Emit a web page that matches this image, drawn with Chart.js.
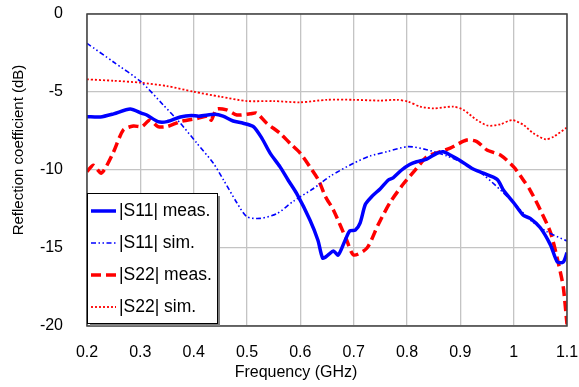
<!DOCTYPE html>
<html>
<head>
<meta charset="utf-8">
<script src="https://cdn.jsdelivr.net/npm/chart.js@4.4.1/dist/chart.umd.min.js"></script>
<style>
  html, body { margin: 0; padding: 0; background: #fff; }
  canvas { display: block; }
</style>
</head>
<body>
<canvas id="refl-chart" width="579" height="387"></canvas>
<script>
// Valores (frequência em GHz, coeficiente em dB)
var s11MeasFreq = [0.2, 0.225, 0.25, 0.281, 0.303, 0.312, 0.333, 0.35, 0.375, 0.396, 0.41, 0.44, 0.455, 0.474, 0.493, 0.512, 0.528, 0.543, 0.562, 0.577, 0.593, 0.618, 0.633, 0.642, 0.652, 0.662, 0.671, 0.684, 0.693, 0.703, 0.712, 0.722, 0.734, 0.75, 0.765, 0.774, 0.79, 0.805, 0.818, 0.837, 0.856, 0.868, 0.881, 0.9, 0.922, 0.943, 0.969, 0.981, 1.0, 1.018, 1.031, 1.05, 1.069, 1.082, 1.093, 1.1];
var s11MeasDb = [-6.58, -6.6, -6.4, -6.09, -6.37, -6.47, -6.9, -6.9, -6.6, -6.5, -6.55, -6.43, -6.55, -6.86, -7.0, -7.22, -7.97, -8.9, -9.8, -10.64, -11.5, -13.2, -14.5, -15.65, -15.45, -15.2, -15.45, -14.5, -13.9, -13.85, -13.4, -12.2, -11.7, -11.2, -10.64, -10.5, -10.0, -9.65, -9.47, -9.3, -8.93, -8.83, -9.04, -9.4, -9.9, -10.2, -10.6, -11.3, -12.1, -12.9, -13.1, -13.7, -14.8, -15.9, -15.9, -15.3];

var s11SimFreq = [0.2, 0.249, 0.301, 0.343, 0.375, 0.406, 0.437, 0.456, 0.481, 0.5, 0.525, 0.556, 0.587, 0.624, 0.656, 0.7, 0.731, 0.762, 0.802, 0.837, 0.875, 0.906, 0.943, 0.994, 1.031, 1.062, 1.1];
var s11SimDb = [-1.88, -3.06, -4.34, -5.83, -7.0, -8.28, -9.57, -10.64, -12.1, -13.0, -13.1, -12.8, -12.0, -11.2, -10.4, -9.56, -9.1, -8.83, -8.5, -8.7, -9.1, -9.56, -10.3, -11.9, -13.2, -13.95, -14.55];

var s22MeasFreq = [0.2, 0.212, 0.227, 0.249, 0.268, 0.287, 0.303, 0.318, 0.333, 0.35, 0.375, 0.406, 0.427, 0.433, 0.443, 0.462, 0.481, 0.506, 0.518, 0.537, 0.562, 0.581, 0.6, 0.618, 0.634, 0.647, 0.662, 0.687, 0.7, 0.725, 0.746, 0.768, 0.793, 0.818, 0.837, 0.856, 0.881, 0.912, 0.931, 0.95, 0.975, 1.0, 1.018, 1.031, 1.05, 1.069, 1.084, 1.093, 1.1];
var s22MeasDb = [-10.1, -9.7, -10.2, -8.9, -7.44, -7.18, -7.22, -6.8, -7.22, -7.22, -6.9, -6.7, -6.54, -6.8, -6.1, -6.15, -6.47, -6.4, -6.35, -7.0, -7.65, -8.3, -8.93, -9.8, -10.64, -11.7, -12.56, -14.5, -15.45, -15.0, -13.5, -12.1, -10.9, -9.9, -9.15, -8.9, -8.6, -8.08, -8.18, -8.72, -9.04, -9.8, -10.64, -11.3, -12.56, -14.0, -16.0, -17.5, -19.9];

var s22SimFreq = [0.2, 0.25, 0.3, 0.35, 0.4, 0.45, 0.5, 0.55, 0.6, 0.65, 0.7, 0.75, 0.781, 0.802, 0.825, 0.85, 0.887, 0.906, 0.931, 0.952, 0.975, 0.997, 1.018, 1.037, 1.06, 1.075, 1.1];
var s22SimDb = [-4.19, -4.28, -4.4, -4.62, -4.98, -5.3, -5.58, -5.58, -5.66, -5.5, -5.5, -5.55, -5.5, -5.62, -5.94, -6.05, -5.94, -6.15, -6.8, -7.16, -7.07, -6.8, -7.1, -7.65, -8.03, -7.86, -7.27];

var seriesLabels = ['|S11| meas.', '|S11| sim.', '|S22| meas.', '|S22| sim.'];
var xTitle = 'Frequency (GHz)';
var yTitle = 'Reflection coefficient (dB)';

var fontFamily = "'Liberation Sans', Arial, sans-serif";

/**
 * Junta frequência e valor em pontos {x, y}
 */
function toPoints(freqs, values) {
    return freqs.map(function(f, i) { return { x: f, y: values[i] }; });
}

// Moldura do gráfico e títulos dos eixos
var framePlugin = {
    id: 'frame',
    afterDatasetsDraw: function(chart) {
        let ctx = chart.ctx, a = chart.chartArea;
        ctx.save();
        ctx.strokeStyle = '#404040';
        ctx.lineWidth = 1.5;
        ctx.strokeRect(a.left, a.top, a.right - a.left, a.bottom - a.top);

        ctx.fillStyle = '#000';
        ctx.font = '16px ' + fontFamily;
        ctx.textAlign = 'center';
        ctx.textBaseline = 'middle';
        ctx.fillText(xTitle, 296, 373);

        ctx.translate(19, 150);
        ctx.rotate(-Math.PI / 2);
        ctx.font = '15px ' + fontFamily;
        ctx.fillText(yTitle, 0, 0);
        ctx.restore();
    }
};

// Legenda dentro da área do gráfico, com sombra
var boxLegendPlugin = {
    id: 'boxLegend',
    afterDraw: function(chart) {
        let ctx = chart.ctx;
        let x = 87, y = 193, w = 130, h = 130;
        ctx.save();
        ctx.fillStyle = '#808080';
        ctx.fillRect(x + 3, y + 3, w, h);
        ctx.fillStyle = '#fff';
        ctx.fillRect(x, y, w, h);
        ctx.strokeStyle = '#000';
        ctx.lineWidth = 1;
        ctx.strokeRect(x + 0.5, y + 0.5, w, h);

        ctx.font = '17.5px ' + fontFamily;
        ctx.textBaseline = 'middle';
        ctx.textAlign = 'left';
        chart.data.datasets.forEach(function(ds, i) {
            let cy = 211 + i * 32;
            ctx.strokeStyle = ds.borderColor;
            ctx.lineWidth = ds.borderWidth;
            ctx.setLineDash(ds.borderDash || []);
            ctx.beginPath();
            ctx.moveTo(91, cy);
            ctx.lineTo(116, cy);
            ctx.stroke();
            ctx.setLineDash([]);
            ctx.fillStyle = '#000';
            ctx.fillText(ds.label, 119, cy);
        });
        ctx.restore();
    }
};

var reflChart = new Chart(document.getElementById('refl-chart'), {
    type: 'line',
    data: {
        datasets: [{
            label: seriesLabels[0],
            data: toPoints(s11MeasFreq, s11MeasDb),
            borderColor: '#0000ff',
            borderWidth: 3.5,
            borderDash: []
        }, {
            label: seriesLabels[1],
            data: toPoints(s11SimFreq, s11SimDb),
            borderColor: '#0000ff',
            borderWidth: 1.6,
            borderDash: [5, 2.5, 1.5, 2.5, 1.5, 2.5]
        }, {
            label: seriesLabels[2],
            data: toPoints(s22MeasFreq, s22MeasDb),
            borderColor: '#ff0000',
            borderWidth: 3.5,
            borderDash: [10, 5]
        }, {
            label: seriesLabels[3],
            data: toPoints(s22SimFreq, s22SimDb),
            borderColor: '#ff0000',
            borderWidth: 1.8,
            borderDash: [2, 2]
        }]
    },
    options: {
        responsive: false,
        animation: false,
        devicePixelRatio: 1,
        layout: { padding: { top: 14, right: 12, left: 0, bottom: 0 } },
        elements: {
            point: { radius: 0 },
            line: { tension: 0.25, fill: false }
        },
        plugins: {
            legend: { display: false },
            tooltip: { enabled: false }
        },
        scales: {
            x: {
                type: 'linear',
                min: 0.2,
                max: 1.1,
                afterFit: function(scale) {
                    scale.height = 61;
                    scale.paddingLeft = 0;
                    scale.paddingRight = 0;
                },
                grid: { color: '#c4c4c4', lineWidth: 1.3, drawTicks: false },
                border: { display: false },
                ticks: {
                    stepSize: 0.1,
                    padding: 17,
                    color: '#000',
                    font: { family: fontFamily, size: 16 },
                    maxRotation: 0,
                    callback: function(v) { return String(Number(v.toFixed(1))); }
                }
            },
            y: {
                min: -20,
                max: 0,
                afterFit: function(scale) {
                    scale.width = 87;
                    scale.paddingTop = 0;
                    scale.paddingBottom = 0;
                },
                grid: { color: '#c4c4c4', lineWidth: 1.3, drawTicks: false },
                border: { display: false },
                ticks: {
                    stepSize: 5,
                    padding: 24,
                    color: '#000',
                    font: { family: fontFamily, size: 16 }
                }
            }
        }
    },
    plugins: [framePlugin, boxLegendPlugin]
});
</script>
</body>
</html>
